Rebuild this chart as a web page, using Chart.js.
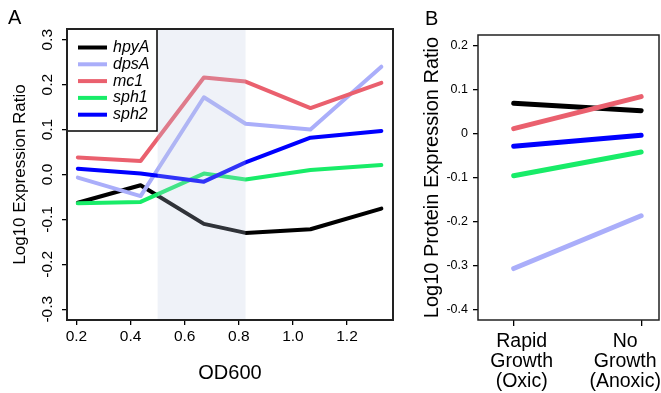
<!DOCTYPE html>
<html>
<head>
<meta charset="utf-8">
<title>Expression ratios</title>
<script src="https://cdn.jsdelivr.net/npm/chart.js@4.4.1/dist/chart.umd.min.js"></script>
<style>
  html, body { margin: 0; padding: 0; background: #fff; }
  #wrap { position: relative; width: 661px; height: 393px; overflow: hidden; }
  #chartA { position: absolute; left: 0; top: 0; }
  #chartB { position: absolute; left: 400px; top: 0; }
</style>
</head>
<body>
<div id="wrap">
  <canvas id="chartA" width="400" height="393"></canvas>
  <canvas id="chartB" width="261" height="393"></canvas>
</div>
<script>
// ============ DATA ============
const genes = ['hpyA', 'dpsA', 'mc1', 'sph1', 'sph2'];
const geneColors = ['#000000', '#AAAEFA', '#EA606E', '#18EC68', '#0000FF'];

// Panel A: transcript ratios vs culture density
const od600 = [0.205, 0.437, 0.671, 0.825, 1.065, 1.327];
const hpyA_rna = [-0.063, -0.024, -0.110, -0.130, -0.122, -0.076];
const dpsA_rna = [-0.007, -0.048, 0.172, 0.113, 0.100, 0.240];
const mc1_rna  = [0.038, 0.030, 0.216, 0.207, 0.148, 0.204];
const sph1_rna = [-0.064, -0.061, 0.002, -0.011, 0.010, 0.021];
const sph2_rna = [0.013, 0.002, -0.016, 0.027, 0.082, 0.097];
const shadeRange = [0.5, 0.825];

// Panel B: protein ratios, two growth conditions
const conditions = [['Rapid', 'Growth', '(Oxic)'], ['No', 'Growth', '(Anoxic)']];
const conditionPos = [1, 2];
const hpyA_prot = [0.069, 0.052];
const dpsA_prot = [-0.307, -0.187];
const mc1_prot  = [0.011, 0.084];
const sph1_prot = [-0.096, -0.042];
const sph2_prot = [-0.029, -0.004];

const rnaSeries = [hpyA_rna, dpsA_rna, mc1_rna, sph1_rna, sph2_rna];
const protSeries = [hpyA_prot, dpsA_prot, mc1_prot, sph1_prot, sph2_prot];

// ============ SHARED ============
const FONT = "'Liberation Sans', Arial, Helvetica, sans-serif";
Chart.defaults.font.family = FONT;
Chart.defaults.color = '#000';

function fmt1(v) {
  return Math.abs(v) < 1e-9 ? '0.0' : v.toFixed(1);
}

function makeDatasets(xs, series, width) {
  return series.map((vals, i) => ({
    label: genes[i],
    data: xs.map((x, j) => ({ x: x, y: vals[j] })),
    borderColor: geneColors[i],
    backgroundColor: geneColors[i],
    borderWidth: width,
    borderCapStyle: 'round',
    borderJoinStyle: 'round',
    pointRadius: 0,
    tension: 0,
    fill: false,
    order: series.length - i   // later genes drawn on top
  }));
}

// box round the plot region
const plotFrame = {
  id: 'plotFrame',
  afterDraw(chart, args, opts) {
    const { ctx, chartArea: ca } = chart;
    ctx.save();
    ctx.strokeStyle = opts.color;
    ctx.lineWidth = opts.width;
    ctx.strokeRect(ca.left, ca.top, ca.right - ca.left, ca.bottom - ca.top);
    ctx.restore();
  }
};

const panelLetter = {
  id: 'panelLetter',
  afterDraw(chart, args, opts) {
    const ctx = chart.ctx;
    ctx.save();
    ctx.fillStyle = '#000';
    ctx.font = `20px ${FONT}`;
    ctx.textBaseline = 'alphabetic';
    ctx.fillText(opts.text, opts.x, opts.y);
    ctx.restore();
  }
};

// translucent band over the lines (panel A)
const shadeBand = {
  id: 'shadeBand',
  afterDatasetsDraw(chart) {
    const { ctx, chartArea: ca, scales: { x } } = chart;
    const x1 = x.getPixelForValue(shadeRange[0]);
    const x2 = x.getPixelForValue(shadeRange[1]);
    ctx.save();
    ctx.fillStyle = 'rgba(190, 205, 228, 0.25)';
    ctx.fillRect(x1, ca.top, x2 - x1, ca.bottom - ca.top);
    ctx.restore();
  }
};

// boxed legend in the top-left corner (panel A)
const cornerLegend = {
  id: 'cornerLegend',
  afterDraw(chart) {
    const { ctx, chartArea: ca } = chart;
    const w = 90, h = 102;
    ctx.save();
    ctx.fillStyle = '#fff';
    ctx.fillRect(ca.left, ca.top, w, h);
    ctx.strokeStyle = '#000';
    ctx.lineWidth = 1.5;
    ctx.strokeRect(ca.left, ca.top, w, h);
    ctx.font = `italic 16px ${FONT}`;
    ctx.textBaseline = 'middle';
    ctx.lineCap = 'butt';
    chart.data.datasets.forEach((ds, i) => {
      const y = ca.top + 18.5 + i * 16.8;
      ctx.strokeStyle = ds.borderColor;
      ctx.lineWidth = 4;
      ctx.beginPath();
      ctx.moveTo(ca.left + 11, y);
      ctx.lineTo(ca.left + 40, y);
      ctx.stroke();
      ctx.fillStyle = '#000';
      ctx.fillText(ds.label, ca.left + 46, y);
    });
    ctx.restore();
  }
};

// multi-line condition names under panel B (set slightly off the ticks, as in the figure)
const conditionLabels = {
  id: 'conditionLabels',
  afterDraw(chart, args, opts) {
    const { ctx, chartArea: ca, scales: { x } } = chart;
    ctx.save();
    ctx.font = `19.5px ${FONT}`;
    ctx.textAlign = 'center';
    ctx.textBaseline = 'middle';
    ctx.fillStyle = '#000';
    conditions.forEach((lines, i) => {
      const cx = x.getPixelForValue(conditionPos[i]) + opts.nudge[i];
      lines.forEach((t, k) => ctx.fillText(t, cx, ca.bottom + 22 + k * 20));
    });
    ctx.restore();
  }
};

const tickGrid = { drawOnChartArea: false, drawTicks: true, tickLength: 5, color: '#000', lineWidth: 1.3 };

// ============ PANEL A ============
new Chart(document.getElementById('chartA'), {
  type: 'line',
  data: { datasets: makeDatasets(od600, rnaSeries, 4) },
  options: {
    responsive: false,
    animation: false,
    layout: { padding: { top: 29, right: 7, left: 0, bottom: 0 } },
    plugins: {
      legend: { display: false },
      tooltip: { enabled: false },
      plotFrame: { color: '#222', width: 2 },
      panelLetter: { text: 'A', x: 8, y: 24 }
    },
    scales: {
      x: {
        type: 'linear',
        min: 0.165, max: 1.37,
        afterFit: s => { s.height = 73; s.paddingLeft = 0; s.paddingRight = 0; },
        border: { display: false },
        grid: tickGrid,
        ticks: { stepSize: 0.2, includeBounds: false, maxRotation: 0, padding: 2,
                 font: { size: 15.5 }, callback: v => fmt1(v) },
        title: { display: true, text: 'OD600', font: { size: 20 }, padding: { top: 0, bottom: 8 } }
      },
      y: {
        min: -0.324, max: 0.324,
        afterFit: s => { s.width = 67; },
        border: { display: false },
        grid: tickGrid,
        ticks: { stepSize: 0.1, includeBounds: false, minRotation: 90, maxRotation: 90,
                 crossAlign: 'center', padding: 1, font: { size: 15.5 }, callback: v => fmt1(v) },
        title: { display: true, text: 'Log10 Expression Ratio', font: { size: 17 }, padding: { top: 10, bottom: 0 } }
      }
    }
  },
  plugins: [shadeBand, cornerLegend, plotFrame, panelLetter]
});

// ============ PANEL B ============
new Chart(document.getElementById('chartB'), {
  type: 'line',
  data: { datasets: makeDatasets(conditionPos, protSeries, 5) },
  options: {
    responsive: false,
    animation: false,
    layout: { padding: { top: 35, right: 2, left: 0, bottom: 0 } },
    plugins: {
      legend: { display: false },
      tooltip: { enabled: false },
      plotFrame: { color: '#222', width: 1.5 },
      panelLetter: { text: 'B', x: 25, y: 25 },
      conditionLabels: { nudge: [8, -16] }
    },
    scales: {
      x: {
        type: 'linear',
        min: 0.72, max: 2.14,
        afterFit: s => { s.height = 73; s.paddingLeft = 0; s.paddingRight = 0; },
        border: { display: false },
        grid: { ...tickGrid, tickLength: 6 },
        ticks: { stepSize: 1, includeBounds: false, display: false }
      },
      y: {
        min: -0.424, max: 0.224,
        afterFit: s => { s.width = 78; },
        border: { display: false },
        grid: tickGrid,
        ticks: { stepSize: 0.1, includeBounds: false, padding: 5, font: { size: 12.5 },
                 callback: v => Math.abs(v) < 1e-9 ? '0' : v.toFixed(1) },
        title: { display: true, text: 'Log10 Protein Expression Ratio', font: { size: 20 }, padding: { top: 20, bottom: 0 } }
      }
    }
  },
  plugins: [plotFrame, panelLetter, conditionLabels]
});
</script>
</body>
</html>
